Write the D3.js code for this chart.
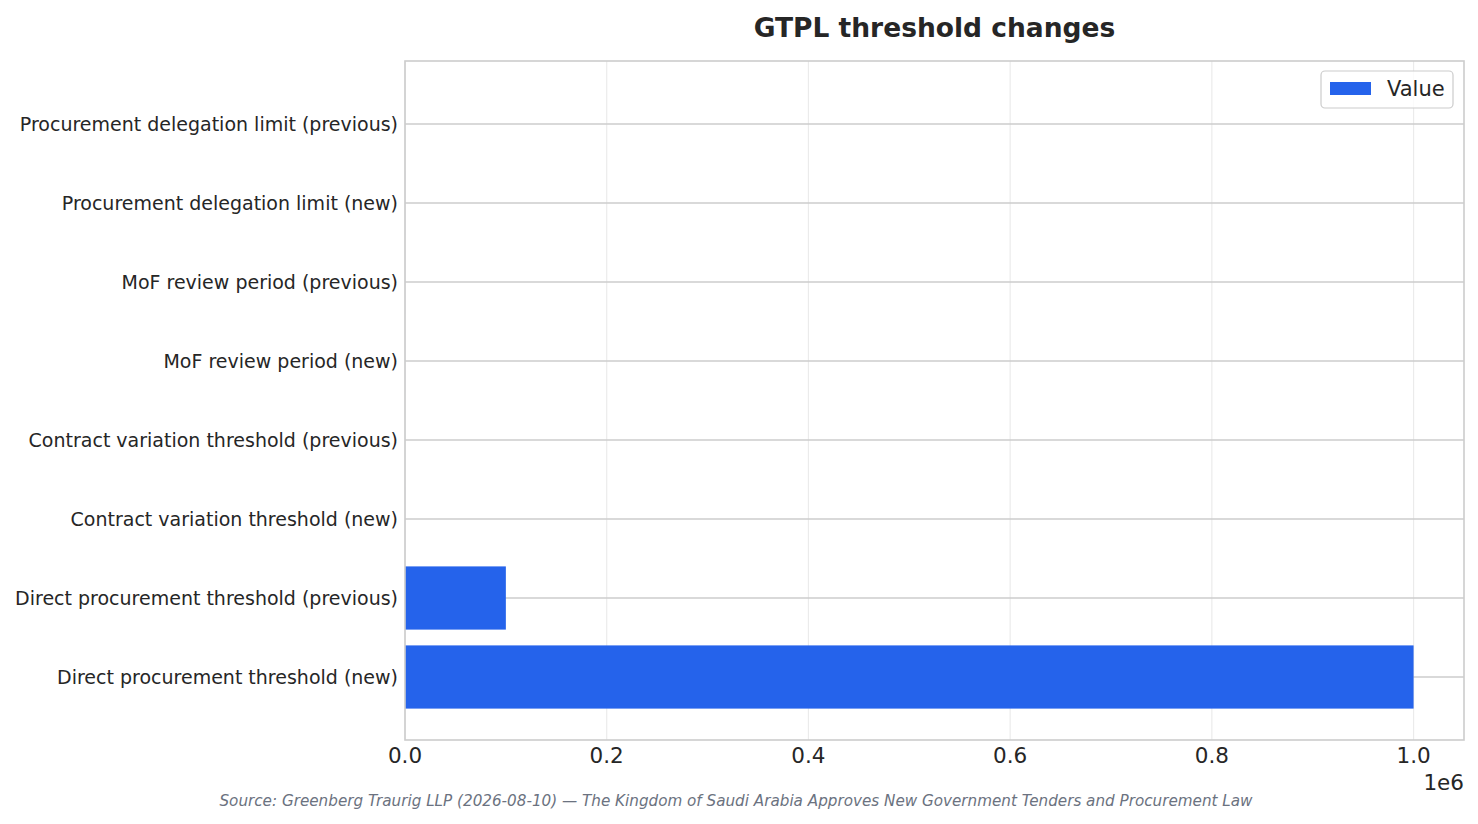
<!DOCTYPE html>
<html><head><meta charset="utf-8">
<script src="https://cdn.jsdelivr.net/npm/d3@7"></script>
<style>body{margin:0;background:#fff;font-family:"DejaVu Sans",sans-serif;}</style>
</head><body>
<svg id="c" width="1478" height="824"></svg>
<script>
const categories = [
  "Procurement delegation limit (previous)",
  "Procurement delegation limit (new)",
  "MoF review period (previous)",
  "MoF review period (new)",
  "Contract variation threshold (previous)",
  "Contract variation threshold (new)",
  "Direct procurement threshold (previous)",
  "Direct procurement threshold (new)"
];
const values = [10, 20, 30, 15, 10, 20, 100000, 1000000];
const xTicks = [0, 200000, 400000, 600000, 800000, 1000000];
const seriesName = "Value";
const titleText = "GTPL threshold changes";
const sourceText = "Source: Greenberg Traurig LLP (2026-08-10) \u2014 The Kingdom of Saudi Arabia Approves New Government Tenders and Procurement Law";

const svg = d3.select("#c");
const m = {l:405, r:1464, t:61, b:740};
const x = d3.scaleLinear().domain([0, 1050000]).range([m.l, m.r]);
const yc = d3.scalePoint().domain(categories).range([124, 677]);
const bh = (677-124)/(categories.length-1)*0.8;

// vertical grid
svg.append("g").selectAll("line").data(xTicks).join("line")
  .attr("x1", d=>x(d)).attr("x2", d=>x(d)).attr("y1", m.t).attr("y2", m.b)
  .attr("stroke", "#ebebeb").attr("stroke-width", 1.2);
// horizontal grid
svg.append("g").selectAll("line").data(categories).join("line")
  .attr("x1", m.l).attr("x2", m.r).attr("y1", d=>yc(d)).attr("y2", d=>yc(d))
  .attr("stroke", "#cccccc").attr("stroke-width", 1.4);

// bars
svg.append("g").selectAll("rect").data(categories).join("rect")
  .attr("x", x(0)).attr("y", d=>yc(d)-bh/2)
  .attr("width", (d,i)=>x(values[i])-x(0)).attr("height", bh)
  .attr("fill", "#2563eb");

// frame
svg.append("rect").attr("x", m.l).attr("y", m.t).attr("width", m.r-m.l).attr("height", m.b-m.t)
  .attr("fill","none").attr("stroke","#cccccc").attr("stroke-width",1.6);

// y labels
svg.append("g").selectAll("text").data(categories).join("text")
  .attr("x", m.l-7).attr("y", d=>yc(d)).attr("dy","0.35em")
  .attr("text-anchor","end").attr("font-size", 19).attr("fill","#262626").text(d=>d);

// x ticks
const fmt = d3.format(".1f");
svg.append("g").selectAll("text").data(xTicks).join("text")
  .attr("x", d=>x(d)).attr("y", m.b+23)
  .attr("text-anchor","middle").attr("font-size", 21.5).attr("fill","#262626")
  .text(d=>fmt(d/1e6));
svg.append("text").attr("x", m.r).attr("y", 790).attr("text-anchor","end")
  .attr("font-size",21.5).attr("fill","#262626").text("1e6");

// title
svg.append("text").attr("x", (m.l+m.r)/2).attr("y", 37).attr("text-anchor","middle")
  .attr("font-size", 26.5).attr("font-weight","bold").attr("fill","#262626").text(titleText);

// source
svg.append("text").attr("x", 736).attr("y", 806).attr("text-anchor","middle")
  .attr("font-size", 15.2).attr("font-style","italic").attr("fill","#6b7280").text(sourceText);

// legend
const lg = svg.append("g");
lg.append("rect").attr("x",1321).attr("y",71).attr("width",132).attr("height",37).attr("rx",4)
  .attr("fill","#fff").attr("fill-opacity",0.8).attr("stroke","#cccccc").attr("stroke-width",1.2);
lg.append("rect").attr("x",1330).attr("y",82).attr("width",41).attr("height",13).attr("fill","#2563eb");
lg.append("text").attr("x",1387).attr("y",89).attr("dy","0.35em").attr("font-size",21)
  .attr("fill","#262626").text(seriesName);
</script>
</body></html>
